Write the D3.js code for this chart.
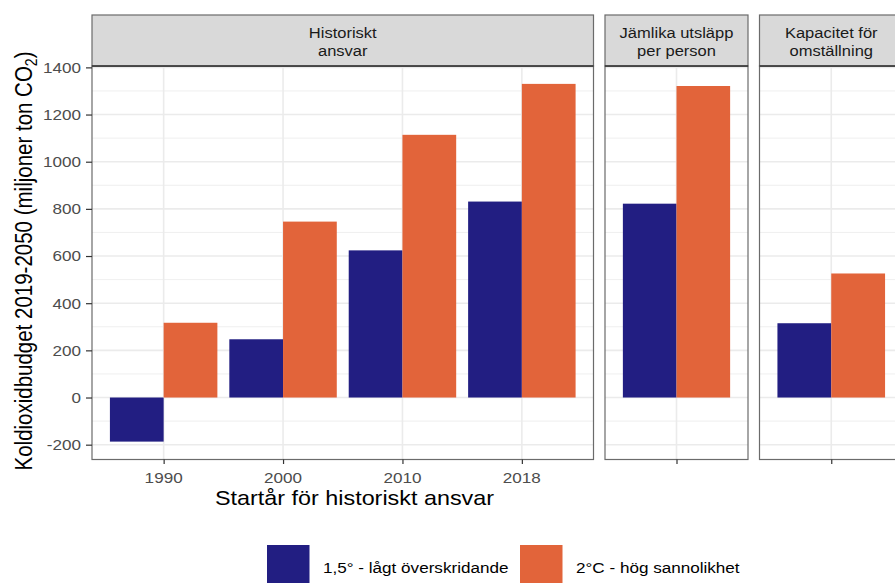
<!DOCTYPE html>
<html>
<head>
<meta charset="utf-8">
<script src="https://cdn.jsdelivr.net/npm/d3@7"></script>
<style>
  body { margin: 0; background: #fff; }
  svg { font-family: "Liberation Sans", Arial, sans-serif; }
</style>
</head>
<body>
<svg id="chart" width="895" height="583"></svg>
<script>
// data
var startYears = ["1990", "2000", "2010", "2018"];
var historicLow = [-187, 247, 624, 831];
var historicHigh = [317, 746, 1114, 1330];
var equalLow = [822];
var equalHigh = [1321];
var capacityLow = [315];
var capacityHigh = [526];
var facetLabels = [["Historiskt", "ansvar"], ["Jämlika utsläpp", "per person"], ["Kapacitet för", "omställning"]];
var seriesNames = ["1,5° - lågt överskridande", "2°C - hög sannolikhet"];
var seriesColors = ["#221E82", "#E2643A"];
var yTicks = [-200, 0, 200, 400, 600, 800, 1000, 1200, 1400];
var yMinor = [-100, 100, 300, 500, 700, 900, 1100, 1300];

// the reference is a bit wider than tall, text is stretched sideways
var stretch = 1.14;

var panels = [
  { label: facetLabels[0], cats: startYears, low: historicLow, high: historicHigh, x0: 92, x1: 593.5, showLabels: true },
  { label: facetLabels[1], cats: [""], low: equalLow, high: equalHigh, x0: 605, x1: 748, showLabels: false },
  { label: facetLabels[2], cats: [""], low: capacityLow, high: capacityHigh, x0: 759.5, x1: 903, showLabels: false }
];

var stripTop = 15, panelTop = 66, panelBottom = 459.5;

var svg = d3.select("#chart");

function addText(parent, x, y, str, size, anchor, fill) {
  return parent.append("text")
    .attr("transform", "translate(" + x + "," + y + ") scale(" + stretch + ",1)")
    .attr("text-anchor", anchor || "start")
    .attr("font-size", size)
    .attr("fill", fill || "#000")
    .text(str);
}

// y scale (ggplot-style 5% expansion)
var allVals = historicLow.concat(historicHigh, equalLow, equalHigh, capacityLow, capacityHigh);
var ymin = d3.min(allVals), ymax = d3.max(allVals), pad = (ymax - ymin) * 0.05;
var y = d3.scaleLinear().domain([ymin - pad, ymax + pad]).range([panelBottom, panelTop]);

panels.forEach(function (p) {
  var x = d3.scalePoint().domain(p.cats).range([p.x0, p.x1]).padding(0.6);
  var bw = x.step() * 0.45;
  var g = svg.append("g");

  // grid
  g.selectAll(".minor").data(yMinor).enter().append("line")
    .attr("x1", p.x0).attr("x2", p.x1)
    .attr("y1", d => y(d)).attr("y2", d => y(d))
    .attr("stroke", "#EBEBEB").attr("stroke-width", 0.8);
  g.selectAll(".major").data(yTicks).enter().append("line")
    .attr("x1", p.x0).attr("x2", p.x1)
    .attr("y1", d => y(d)).attr("y2", d => y(d))
    .attr("stroke", "#EBEBEB").attr("stroke-width", 1.6);
  g.selectAll(".vmajor").data(p.cats).enter().append("line")
    .attr("x1", d => x(d)).attr("x2", d => x(d))
    .attr("y1", panelTop).attr("y2", panelBottom)
    .attr("stroke", "#EBEBEB").attr("stroke-width", 1.6);

  // bars, dodged
  p.cats.forEach(function (c, i) {
    [p.low[i], p.high[i]].forEach(function (v, si) {
      g.append("rect")
        .attr("x", x(c) - bw + si * bw).attr("width", bw)
        .attr("y", y(Math.max(0, v))).attr("height", Math.abs(y(v) - y(0)))
        .attr("fill", seriesColors[si]);
    });
  });

  // panel border
  g.append("rect").attr("x", p.x0).attr("y", panelTop).attr("width", p.x1 - p.x0)
    .attr("height", panelBottom - panelTop).attr("fill", "none")
    .attr("stroke", "#6b6b6b").attr("stroke-width", 1.2);

  // strip
  g.append("rect").attr("x", p.x0).attr("y", stripTop).attr("width", p.x1 - p.x0)
    .attr("height", panelTop - stripTop).attr("fill", "#D9D9D9")
    .attr("stroke", "#6b6b6b").attr("stroke-width", 1.2);
  g.append("line").attr("x1", p.x0).attr("x2", p.x1).attr("y1", panelTop).attr("y2", panelTop)
    .attr("stroke", "#333").attr("stroke-width", 1.4);
  p.label.forEach(function (line, li) {
    addText(g, (p.x0 + p.x1) / 2, 37.5 + li * 18, line, 14.5, "middle", "#1A1A1A");
  });

  // x ticks
  var ax = g.append("g").attr("transform", "translate(0," + panelBottom + ")")
    .call(d3.axisBottom(x).tickSize(4.5).tickFormat(""));
  ax.select(".domain").remove();
  ax.selectAll(".tick line").attr("stroke", "#333").attr("stroke-width", 1.2);
  if (p.showLabels) {
    p.cats.forEach(function (c) {
      addText(g, x(c), 483, c, 15, "middle", "#4D4D4D");
    });
  }
});

// y axis
var ay = svg.append("g").attr("transform", "translate(92,0)")
  .call(d3.axisLeft(y).tickValues(yTicks).tickSize(6).tickFormat(""));
ay.select(".domain").remove();
ay.selectAll(".tick line").attr("stroke", "#333").attr("stroke-width", 1.2);
yTicks.forEach(function (t) {
  addText(svg, 81, y(t) + 5.4, String(t), 15, "end", "#4D4D4D");
});

// axis titles
addText(svg, 354.5, 505, "Startår för historiskt ansvar", 20.5, "middle", "#000");

var yt = svg.append("text")
  .attr("transform", "translate(32," + 261 + ") scale(" + stretch + ",1) rotate(-90)")
  .attr("text-anchor", "middle").attr("font-size", 20.5).attr("fill", "#000");
yt.append("tspan").text("Koldioxidbudget 2019-2050 (miljoner ton CO");
yt.append("tspan").attr("font-size", 14).attr("dy", 4).text("2");
yt.append("tspan").attr("dy", -4).text(")");

// legend
var legendX = [267, 520];
seriesNames.forEach(function (name, i) {
  svg.append("rect").attr("x", legendX[i]).attr("y", 545).attr("width", 42.5).attr("height", 42)
    .attr("fill", seriesColors[i]);
  addText(svg, legendX[i] + 56, 573, name, 15, "start", "#000");
});
</script>
</body>
</html>
